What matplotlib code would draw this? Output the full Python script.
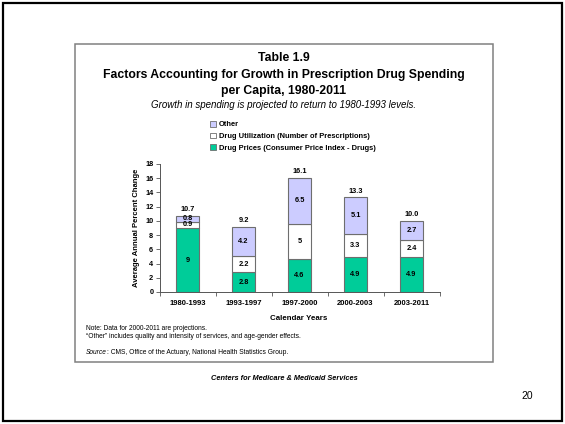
import matplotlib
matplotlib.use("Agg")
import matplotlib.pyplot as plt
from matplotlib.patches import Rectangle, Patch
import numpy as np

plt.rcParams['font.family'] = ['Liberation Sans', 'DejaVu Sans']

periods = ["1980-1993", "1993-1997", "1997-2000", "2000-2003", "2003-2011"]
prices = [9, 2.8, 4.6, 4.9, 4.9]
utilization = [0.9, 2.2, 5, 3.3, 2.4]
other = [0.8, 4.2, 6.5, 5.1, 2.7]
totals = [10.7, 9.2, 16.1, 13.3, 10.0]
prices_lbl = ["9", "2.8", "4.6", "4.9", "4.9"]
util_lbl = ["0.9", "2.2", "5", "3.3", "2.4"]
other_lbl = ["0.8", "4.2", "6.5", "5.1", "2.7"]
total_lbl = ["10.7", "9.2", "16.1", "13.3", "10.0"]

W, H = 565, 424
fig = plt.figure(figsize=(W / 100, H / 100), dpi=100)


def fx(px):
    return px / W


def fy(py):
    return 1 - py / H


# outer slide border and inner chart box
fig.patches.append(Rectangle((fx(3), fy(421)), fx(559), (418) / H, transform=fig.transFigure,
                             fill=False, edgecolor='black', linewidth=1.6))
fig.patches.append(Rectangle((fx(75), fy(362)), fx(418), (318) / H, transform=fig.transFigure,
                             fill=False, edgecolor='#808080', linewidth=1.1))

ax = fig.add_axes([fx(159.5), fy(292), fx(280), 128 / H])

x = np.arange(len(periods))
green = '#00CC99'
lav = '#CCCCFF'
edge = '#6e6e6e'
bw = 0.41
ax.bar(x, prices, bw, color=green, edgecolor=edge, linewidth=0.8)
ax.bar(x, utilization, bw, bottom=prices, color='white', edgecolor=edge, linewidth=0.8)
bottom3 = [p + u for p, u in zip(prices, utilization)]
ax.bar(x, other, bw, bottom=bottom3, color=lav, edgecolor=edge, linewidth=0.8)

lblkw = dict(ha='center', va='center', fontsize=5.3, fontweight='bold')
for i in range(len(periods)):
    ax.text(x[i], prices[i] / 2, prices_lbl[i], **lblkw)
    ax.text(x[i], prices[i] + utilization[i] / 2, util_lbl[i], **lblkw)
    ax.text(x[i], bottom3[i] + other[i] / 2, other_lbl[i], **lblkw)
    ax.text(x[i], totals[i] + 0.9, total_lbl[i], **lblkw)

ax.set_xlim(-0.5, len(periods) - 0.5)
ax.set_ylim(0, 18)
ax.set_yticks(range(0, 19, 2))
ax.set_xticks(x)
ax.set_xticklabels(periods, fontsize=5.5, fontweight='bold')
ax.set_xticks(np.arange(-0.5, len(periods)), minor=True)
ax.tick_params(axis='x', which='major', length=0, pad=6)
ax.tick_params(axis='x', which='minor', length=3, width=0.6, color='#555555', direction='out')
ax.tick_params(axis='y', length=3, width=0.6, color='#555555', pad=1.5, labelsize=5.3)
for t in ax.get_yticklabels():
    t.set_fontweight('bold')
for s in ['top', 'right']:
    ax.spines[s].set_visible(False)
for s in ['left', 'bottom']:
    ax.spines[s].set_color('#555555')
    ax.spines[s].set_linewidth(0.7)
ax.set_facecolor('none')

fig.text(fx(137), fy(228), "Average Annual Percent Change", rotation=90, ha='center', va='center',
         fontsize=5.5, fontweight='bold')
fig.text(fx(299), fy(318), "Calendar Years", ha='center', va='center', fontsize=5.7, fontweight='bold')

# titles
fig.text(fx(284), fy(58), "Table 1.9", ha='center', va='center', fontsize=8.8, fontweight='bold')
fig.text(fx(284), fy(75), "Factors Accounting for Growth in Prescription Drug Spending",
         ha='center', va='center', fontsize=8.8, fontweight='bold')
fig.text(fx(284), fy(91), "per Capita, 1980-2011", ha='center', va='center', fontsize=8.8, fontweight='bold')
fig.text(fx(284), fy(105), "Growth in spending is projected to return to 1980-1993 levels.",
         ha='center', va='center', fontsize=7, style='italic')

# legend
handles = [Patch(facecolor=lav, edgecolor=edge, linewidth=0.6),
           Patch(facecolor='white', edgecolor=edge, linewidth=0.6),
           Patch(facecolor=green, edgecolor=edge, linewidth=0.6)]
labels = ["Other", "Drug Utilization (Number of Prescriptions)", "Drug Prices (Consumer Price Index - Drugs)"]
fig.legend(handles, labels, loc='upper left', bbox_to_anchor=(fx(210), fy(121)), frameon=False,
           handlelength=0.8, handleheight=0.8, handletextpad=0.35, labelspacing=0.55,
           borderpad=0, borderaxespad=0, prop={'size': 5.4, 'weight': 'bold'})

# notes
fig.text(fx(86), fy(328), "Note: Data for 2000-2011 are projections.", ha='left', va='center', fontsize=4.8)
fig.text(fx(86), fy(337), "\u201cOther\u201d includes quality and intensity of services, and age-gender effects.",
         ha='left', va='center', fontsize=4.8)
src = fig.text(fx(86), fy(352), "Source", ha='left', va='center', fontsize=4.8, style='italic')
ax.annotate(": CMS, Office of the Actuary, National Health Statistics Group.", xy=(1, 0.5), xycoords=src,
            ha='left', va='center', fontsize=4.8, annotation_clip=False)

fig.text(fx(284), fy(378), "Centers for Medicare & Medicaid Services", ha='center', va='center',
         fontsize=5.3, fontweight='bold', style='italic')
fig.text(fx(527), fy(396), "20", ha='center', va='center', fontsize=7.5)

fig.savefig("out.png", dpi=100)
